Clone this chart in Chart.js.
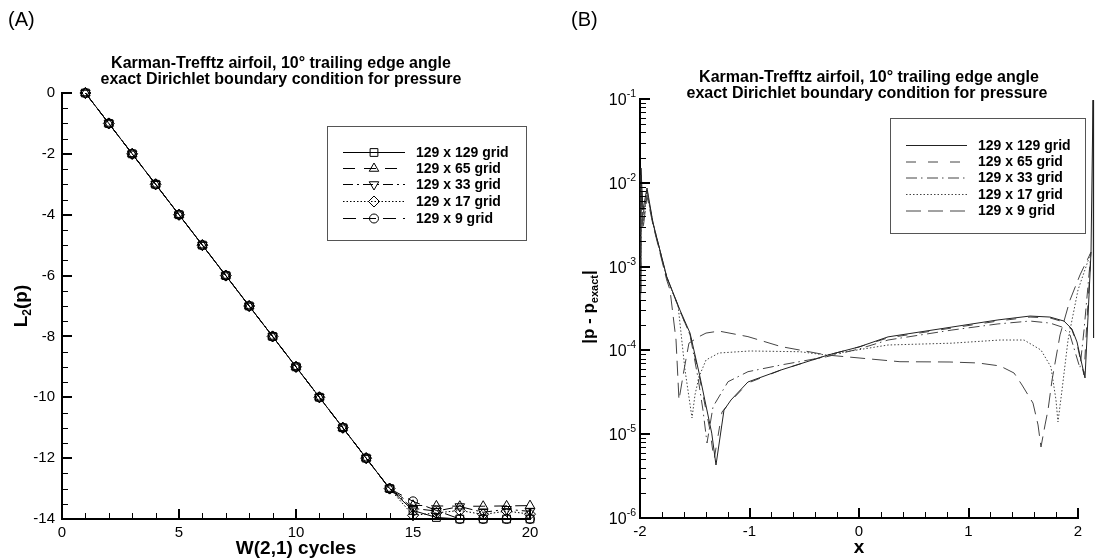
<!DOCTYPE html>
<html><head><meta charset="utf-8">
<script src="https://cdn.jsdelivr.net/npm/chart.js@4/dist/chart.umd.min.js"></script>
<style>
html,body{margin:0;padding:0;background:#fff;}
#wrap{position:relative;width:1106px;height:559px;overflow:hidden;background:#fff;}
canvas{position:absolute;top:0;}
#cA{left:0;} #cB{left:553px;}
</style></head><body>
<div id="wrap"><canvas id="cA" width="553" height="559"></canvas><canvas id="cB" width="553" height="559"></canvas></div>
<script>
// ================= Panel A data =================
const cyclesA = [1,2,3,4,5,6,7,8,9,10,11,12,13,14,15,16,17,18,19,20];
const l2_129x129 = [0,-1,-2,-3,-4,-5,-6,-7,-8,-9,-10,-11,-12,-13,-13.72,-13.95,-14,-14,-14,-14];
const l2_129x65  = [0,-1,-2,-3,-4,-5,-6,-7,-8,-9,-10,-11,-12,-13,-13.55,-13.57,-13.58,-13.58,-13.57,-13.56];
const l2_129x33  = [0,-1,-2,-3,-4,-5,-6,-7,-8,-9,-10,-11,-12,-13,-13.65,-13.74,-13.59,-13.78,-13.68,-13.75];
const l2_129x17  = [0,-1,-2,-3,-4,-5,-6,-7,-8,-9,-10,-11,-12,-13,-13.88,-13.8,-13.72,-13.85,-13.74,-13.84];
const l2_129x9   = [0,-1,-2,-3,-4,-5,-6,-7,-8,-9,-10,-11,-12,-13,-13.42,-13.72,-14,-14,-14,-14];
const seriesLabels = ['129 x 129 grid','129 x 65 grid','129 x 33 grid','129 x 17 grid','129 x 9 grid'];
const xTicksA = [0,5,10,15,20];
const yTicksA = [0,-2,-4,-6,-8,-10,-12,-14];

// ================= Panel B data =================
const xB_129x129 = [-1.995,-1.991,-1.973,-1.936,-1.881,-1.756,-1.635,-1.543,-1.452,-1.345,-1.306,-1.233,-1.169,-1.014,-0.712,-0.283,0,0.265,0.849,1.269,1.562,1.744,1.872,1.945,1.991,2.027,2.064,2.091,2.119,2.137,2.142];
const eB_129x129 = [4.84e-4,1.50e-2,4.73e-3,8.67e-3,3.31e-3,7.57e-4,3.03e-4,1.61e-4,4.82e-5,1.03e-5,4.29e-6,1.94e-5,2.56e-5,4.20e-5,5.84e-5,8.81e-5,1.10e-4,1.45e-4,1.90e-4,2.31e-4,2.57e-4,2.50e-4,2.24e-4,1.80e-4,1.26e-4,7.68e-5,4.69e-5,2.44e-4,1.49e-3,9.7e-2,1.41e-4];
const xB_129x65 = [-1.995,-1.991,-1.973,-1.936,-1.881,-1.756,-1.635,-1.543,-1.452,-1.361,-1.324,-1.251,-1.169,-1.014,-0.712,-0.283,0,0.265,0.849,1.269,1.562,1.744,1.872,1.945,1.991,2.027,2.055,2.082,2.119];
const eB_129x65 = [5.26e-4,1.24e-2,4.13e-3,8.2e-3,3.22e-3,7.51e-4,2.95e-4,1.53e-4,4.44e-5,1.12e-5,4.92e-6,1.84e-5,2.49e-5,4.08e-5,5.84e-5,8.81e-5,1.10e-4,1.41e-4,1.85e-4,2.24e-4,2.50e-4,2.44e-4,2.18e-4,1.75e-4,1.19e-4,7.27e-5,5.09e-5,2.31e-4,1.49e-3];
const xB_129x33 = [-1.995,-1.991,-1.973,-1.936,-1.881,-1.756,-1.635,-1.543,-1.470,-1.425,-1.388,-1.333,-1.196,-1.014,-0.712,-0.295,0,0.265,0.849,1.269,1.562,1.744,1.854,1.927,1.982,2.018,2.055,2.119];
const eB_129x33 = [4.58e-4,1.08e-2,3.60e-3,7.76e-3,3.31e-3,7.51e-4,2.95e-4,1.53e-4,4.69e-5,1.94e-5,7.85e-6,2.13e-5,4.23e-5,5.57e-5,6.70e-5,8.41e-5,1.04e-4,1.33e-4,1.75e-4,2.07e-4,2.24e-4,2.12e-4,1.90e-4,1.53e-4,8.81e-5,6.17e-5,1.75e-4,1.49e-3];
const xB_129x17 = [-1.995,-1.991,-1.973,-1.936,-1.881,-1.756,-1.653,-1.589,-1.525,-1.498,-1.461,-1.397,-1.279,-0.995,-0.539,-0.301,0.265,0.849,1.288,1.507,1.662,1.753,1.799,1.817,1.854,1.909,2.0,2.119];
const eB_129x17 = [4.22e-4,9.42e-3,3.13e-3,7.35e-3,3.22e-3,7.31e-4,3.48e-4,5.84e-5,1.56e-5,2.94e-5,4.85e-5,7.68e-5,9.31e-5,9.84e-5,9.64e-5,8.81e-5,1.16e-4,1.22e-4,1.33e-4,1.33e-4,1.01e-4,6.34e-5,2.56e-5,1.40e-5,3.37e-5,1.33e-4,5.26e-4,1.49e-3];
const xB_129x9 = [-1.995,-1.991,-1.973,-1.936,-1.881,-1.756,-1.726,-1.671,-1.644,-1.598,-1.553,-1.461,-1.397,-1.279,-1.014,-0.712,-0.295,0.374,0.831,1.087,1.288,1.416,1.489,1.589,1.635,1.662,1.699,1.726,1.763,1.836,1.927,2.018,2.119];
const eB_129x9 = [3.99e-4,8.2e-3,2.74e-3,6.95e-3,3.13e-3,6.92e-4,5.26e-4,1.33e-4,2.56e-5,5.84e-5,1.22e-4,1.46e-4,1.61e-4,1.70e-4,1.46e-4,1.11e-4,8.81e-5,7.33e-5,7.27e-5,7.08e-5,6.52e-5,5.37e-5,3.86e-5,2.35e-5,1.29e-5,7.03e-6,1.29e-5,1.94e-5,4.44e-5,1.53e-4,3.99e-4,7.94e-4,1.49e-3];
const xTicksB = [-2,-1,0,1,2];
const yTickExpB = [-1,-2,-3,-4,-5,-6];

// ================= helpers =================
const FONT = '"Liberation Sans", Arial, Helvetica, sans-serif';
Chart.defaults.font.family = FONT;
Chart.defaults.color = '#000';

function richWidth(ctx, parts){ let w=0; for(const p of parts){ ctx.font=p.font; w+=ctx.measureText(p.text).width; } return w; }
function drawRich(ctx, parts, x, y, align){
  const w = richWidth(ctx, parts);
  let cx = align==='center' ? x-w/2 : (align==='right' ? x-w : x);
  ctx.textAlign='left'; ctx.textBaseline='alphabetic';
  for(const p of parts){ ctx.font=p.font; ctx.fillText(p.text, cx, y+(p.dy||0)); cx += ctx.measureText(p.text).width; }
}
const pts = (xs, ys) => xs.map((x,i)=>({x:x, y:ys[i]}));

// draw every parsed point, including those beyond the axis end (as in the original figure)
const drawAllPoints = {
  id:'drawAllPoints',
  beforeDatasetsUpdate(chart){ chart.getSortedVisibleDatasetMetas().forEach(m => { m._sorted = false; }); }
};

const textPlugin = {
  id:'richText',
  afterDraw(chart, args, o){
    const ctx = chart.ctx; ctx.save(); ctx.fillStyle='#000';
    for(const it of o.items){
      if(it.rotate){
        ctx.save(); ctx.translate(it.x, it.y); ctx.rotate(-Math.PI/2);
        drawRich(ctx, it.parts, 0, 0, 'center'); ctx.restore();
      } else drawRich(ctx, it.parts, it.x, it.y, it.align||'left');
    }
    ctx.restore();
  }
};

const tickPlugin = {
  id:'inTicks',
  afterDraw(chart, args, o){
    const ctx = chart.ctx, ca = chart.chartArea; ctx.save(); ctx.strokeStyle='#000';
    for(const ax of o.axes){
      const s = chart.scales[ax.id];
      const draw = (vals, len, w) => {
        ctx.lineWidth = w; ctx.beginPath();
        for(const v of vals){
          const p = Math.round(s.getPixelForValue(v)) + (w%2 ? 0.5 : 0);
          if(s.isHorizontal()){ ctx.moveTo(p, ca.bottom); ctx.lineTo(p, ca.bottom-len); }
          else { ctx.moveTo(ca.left, p); ctx.lineTo(ca.left+len, p); }
        }
        ctx.stroke();
      };
      draw(ax.minor, ax.minorLen, 1);
      draw(ax.major, ax.majorLen, 2);
    }
    ctx.restore();
  }
};

const legendPlugin = {
  id:'boxLegend',
  afterDraw(chart, args, o){
    const ctx = chart.ctx; ctx.save();
    ctx.strokeStyle='#555'; ctx.lineWidth=1; ctx.setLineDash([]);
    ctx.strokeRect(o.left+0.5, o.top+0.5, o.right-o.left, o.bottom-o.top);
    chart.data.datasets.forEach((ds,i)=>{
      const y = o.rows[i];
      ctx.save(); ctx.strokeStyle=ds.borderColor; ctx.lineWidth=ds.borderWidth; ctx.setLineDash(ds.borderDash||[]);
      ctx.beginPath(); ctx.moveTo(o.x0, y+0.5); ctx.lineTo(o.x1, y+0.5); ctx.stroke(); ctx.restore();
      if(ds.pointRadius>0){
        ctx.save(); ctx.setLineDash([]); ctx.strokeStyle='#000'; ctx.fillStyle='rgba(0,0,0,0)'; ctx.lineWidth=1;
        Chart.helpers.drawPoint(ctx, {pointStyle:ds.pointStyle, rotation:ds.pointRotation||0, radius:ds.pointRadius, borderWidth:1}, (o.x0+o.x1)/2, y+0.5);
        ctx.restore();
      }
      ctx.fillStyle='#000'; ctx.font=o.font; ctx.textAlign='left'; ctx.textBaseline='middle';
      ctx.fillText(ds.label, o.textX, y+1);
    });
    ctx.restore();
  }
};

const supLabelPlugin = {
  id:'supLabels',
  afterDraw(chart, args, o){
    const ctx = chart.ctx, s = chart.scales[o.id]; ctx.save(); ctx.fillStyle='#000';
    for(const e of o.exps){
      const py = s.getPixelForValue(Math.pow(10,e));
      const sup = String(e);
      ctx.font = o.supFont; const sw = ctx.measureText(sup).width;
      ctx.font = o.font; const bw = ctx.measureText('10').width;
      drawRich(ctx, [{text:'10', font:o.font},{text:sup, font:o.supFont, dy:-8}], o.right - sw - bw, py+6, 'left');
    }
    ctx.restore();
  }
};

function range(a,b,step){ const r=[]; for(let v=a; v<=b+1e-9; v+=step) r.push(+v.toFixed(6)); return r; }

// ================= Chart A =================
const mk = (label, data, dash, style, radius, rot) => ({
  label, data: pts(cyclesA, data), borderColor:'#000', borderWidth:1, borderDash:dash,
  pointStyle:style, pointRadius:radius, pointRotation:rot||0, pointBorderColor:'#000',
  pointBackgroundColor:'rgba(0,0,0,0)', pointBorderWidth:1, tension:0, clip:false
});
const bold = (px) => 'bold '+px+'px '+FONT;
const norm = (px) => px+'px '+FONT;

new Chart(document.getElementById('cA'), {
  type:'line',
  data:{ datasets:[
    mk(seriesLabels[0], l2_129x129, [], 'rect', 5.5),
    mk(seriesLabels[1], l2_129x65, [12,9], 'triangle', 5.5),
    mk(seriesLabels[2], l2_129x33, [10,4,2,4], 'triangle', 5.5, 180),
    mk(seriesLabels[3], l2_129x17, [1.5,2], 'rectRot', 5.5),
    mk(seriesLabels[4], l2_129x9, [13,7], 'circle', 4.5)
  ]},
  options:{
    responsive:false, animation:false, devicePixelRatio:1,
    layout:{ padding:{left:0, top:93, right:23, bottom:0} },
    plugins:{
      legend:{display:false}, tooltip:{enabled:false},
      inTicks:{ axes:[
        {id:'x', major:xTicksA, minor:range(0,20,1), majorLen:10, minorLen:6},
        {id:'y', major:yTicksA, minor:range(-14,0,0.5), majorLen:10, minorLen:6}
      ]},
      boxLegend:{ left:327, top:126, right:526, bottom:240, rows:[152,168,184,201,218], x0:343, x1:405, textX:416, font:bold(14) },
      richText:{ items:[
        {parts:[{text:'(A)', font:norm(20)}], x:8, y:26},
        {parts:[{text:'Karman-Trefftz airfoil, 10° trailing edge angle', font:bold(16)}], x:281, y:68, align:'center'},
        {parts:[{text:'exact Dirichlet boundary condition for pressure', font:bold(16)}], x:281, y:84, align:'center'},
        {parts:[{text:'W(2,1) cycles', font:bold(19)}], x:296, y:554, align:'center'},
        {parts:[{text:'L', font:bold(19), dy:7},{text:'2', font:bold(12), dy:11},{text:'(p)', font:bold(19), dy:7}], x:20, y:306, rotate:true}
      ]}
    },
    scales:{
      x:{ type:'linear', min:0, max:20,
        afterBuildTicks:s=>{ s.ticks = xTicksA.map(v=>({value:v})); },
        afterFit:s=>{ s.height = 40; },
        grid:{display:false, drawTicks:false}, border:{display:true, color:'#000', width:2},
        ticks:{ font:{size:15}, color:'#000', padding:5, maxRotation:0, autoSkip:false, callback:(v)=>String(v) } },
      y:{ type:'linear', min:-14, max:0,
        afterBuildTicks:s=>{ s.ticks = yTicksA.map(v=>({value:v})); },
        afterFit:s=>{ s.width = 62; },
        grid:{display:false, drawTicks:false}, border:{display:true, color:'#000', width:2},
        ticks:{ font:{size:15}, color:'#000', padding:7, autoSkip:false, callback:(v)=>String(v) } }
    }
  },
  plugins:[tickPlugin, legendPlugin, textPlugin]
});

// ================= Chart B =================
const mkB = (label, xs, ys, dash, color) => ({
  label, data: pts(xs, ys), borderColor:color, borderWidth:1, borderDash:dash,
  pointRadius:0, tension:0, clip:false
});
const minorLog = [];
for(let e=-6; e<=-2; e++){ for(let m=2; m<=9; m++) minorLog.push(m*Math.pow(10,e)); }

new Chart(document.getElementById('cB'), {
  type:'line',
  data:{ datasets:[
    mkB(seriesLabels[0], xB_129x129, eB_129x129, [], '#222'),
    mkB(seriesLabels[1], xB_129x65, eB_129x65, [10,12], '#444'),
    mkB(seriesLabels[2], xB_129x33, eB_129x33, [11,4,1.5,4.5], '#444'),
    mkB(seriesLabels[3], xB_129x17, eB_129x17, [1.5,2], '#444'),
    mkB(seriesLabels[4], xB_129x9, eB_129x9, [15,7], '#444')
  ]},
  options:{
    responsive:false, animation:false, devicePixelRatio:1,
    layout:{ padding:{left:0, top:99, right:28, bottom:0} },
    plugins:{
      legend:{display:false}, tooltip:{enabled:false},
      inTicks:{ axes:[
        {id:'x', major:xTicksB, minor:range(-2,2,0.2), majorLen:10, minorLen:6},
        {id:'y', major:yTickExpB.map(e=>Math.pow(10,e)), minor:minorLog, majorLen:10, minorLen:6}
      ]},
      supLabels:{ id:'y', exps:yTickExpB, right:83, font:norm(16), supFont:norm(10.5) },
      boxLegend:{ left:890-553, top:118, right:1085-553, bottom:233, rows:[145,161.5,177.5,194,210.5], x0:906-553, x1:967-553, textX:978-553, font:bold(14) },
      richText:{ items:[
        {parts:[{text:'(B)', font:norm(20)}], x:571-553, y:26},
        {parts:[{text:'Karman-Trefftz airfoil, 10° trailing edge angle', font:bold(16)}], x:869-553, y:82, align:'center'},
        {parts:[{text:'exact Dirichlet boundary condition for pressure', font:bold(16)}], x:867-553, y:98, align:'center'},
        {parts:[{text:'x', font:bold(19)}], x:859-553, y:553, align:'center'},
        {parts:[{text:'|p - p', font:bold(17), dy:6},{text:'exact', font:bold(11), dy:10},{text:'|', font:bold(17), dy:6}], x:588-553, y:307, rotate:true}
      ]}
    },
    scales:{
      x:{ type:'linear', min:-2, max:2,
        afterBuildTicks:s=>{ s.ticks = xTicksB.map(v=>({value:v})); },
        afterFit:s=>{ s.height = 41; },
        grid:{display:false, drawTicks:false}, border:{display:true, color:'#000', width:2},
        ticks:{ font:{size:15}, color:'#000', padding:5, maxRotation:0, autoSkip:false, callback:(v)=>String(v) } },
      y:{ type:'logarithmic', min:1e-6, max:1e-1,
        afterBuildTicks:s=>{ s.ticks = yTickExpB.map(e=>({value:Math.pow(10,e)})); },
        afterFit:s=>{ s.width = 87; },
        grid:{display:false, drawTicks:false}, border:{display:true, color:'#000', width:2},
        ticks:{ display:false } }
    }
  },
  plugins:[drawAllPoints, tickPlugin, legendPlugin, textPlugin, supLabelPlugin]
});
</script>
</body></html>
